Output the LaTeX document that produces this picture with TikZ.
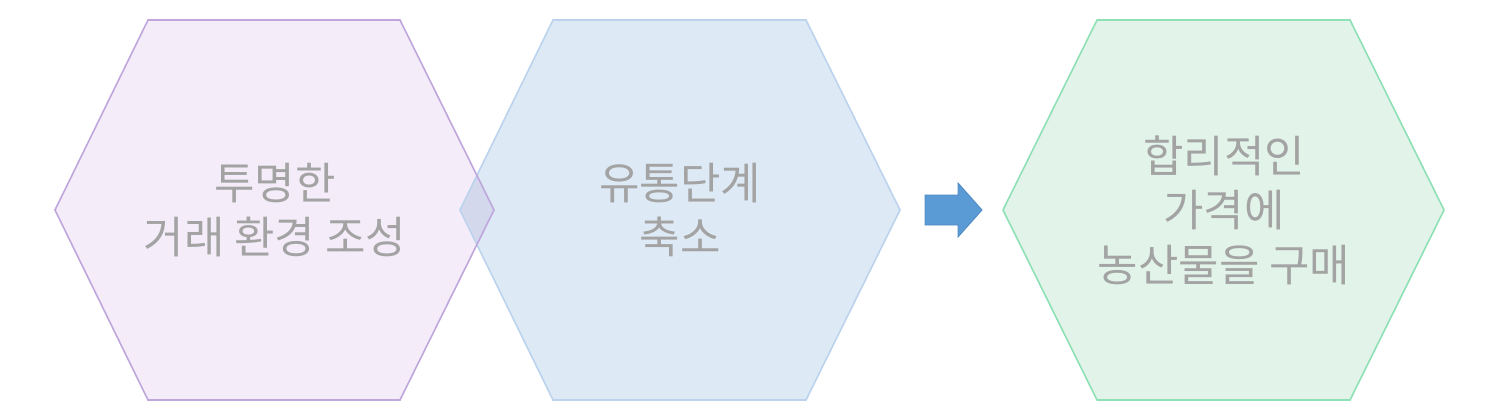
\documentclass[tikz,border=0pt]{standalone}
\usepackage{fontspec}
\newfontfamily\kr{Noto Sans CJK KR}
\definecolor{pfill}{HTML}{F4ECF9}
\definecolor{pline}{HTML}{BFA6DC}
\definecolor{bfill}{HTML}{DDE9F4}
\definecolor{bline}{HTML}{BCD3EE}
\definecolor{ofill}{HTML}{D3D8ED}
\definecolor{gfill}{HTML}{E2F3EA}
\definecolor{gline}{HTML}{8EE0B5}
\definecolor{afill}{HTML}{5B9BD5}
\definecolor{aline}{HTML}{4F8BC4}
\definecolor{txt}{HTML}{A3A3A3}
\begin{document}
\begin{tikzpicture}[x=0.02cm,y=-0.02cm,
  lbl/.style={font=\kr\fontsize{25}{31}\selectfont, text=txt, align=center, inner sep=0pt}]
\useasboundingbox (0,0) rectangle (1500,416);
\fill[white] (0,0) rectangle (1500,416);
% hexagon 1
\path[fill=pfill] (55,210) -- (148,20) -- (400,20) -- (494,210) -- (400,400) -- (148,400) -- cycle;
% hexagon 2
\path[fill=bfill] (460,210) -- (553,20) -- (806,20) -- (900,210) -- (806,400) -- (553,400) -- cycle;
\begin{scope}
\clip (55,210) -- (148,20) -- (400,20) -- (494,210) -- (400,400) -- (148,400) -- cycle;
\fill[ofill] (460,210) -- (553,20) -- (806,20) -- (900,210) -- (806,400) -- (553,400) -- cycle;
\end{scope}
\draw[bline, line width=0.9pt] (460,210) -- (553,20) -- (806,20) -- (900,210) -- (806,400) -- (553,400) -- cycle;
\draw[pline, line width=0.9pt] (55,210) -- (148,20) -- (400,20) -- (494,210) -- (400,400) -- (148,400) -- cycle;
% hexagon 3
\draw[gline, fill=gfill, line width=0.9pt] (1003,210) -- (1097,20) -- (1350,20) -- (1444,210) -- (1350,400) -- (1097,400) -- cycle;
% arrow
\draw[aline, fill=afill, line width=0.5pt] (925,195) -- (958,195) -- (958,183) -- (982,210) -- (958,237) -- (958,225) -- (925,225) -- cycle;
% labels
\node[lbl] (t1) at (275,210) {투명한\\거래 환경 조성};
\node[lbl] (t2) at (680,210) {유통단계\\축소};
\node[lbl] (t3) at (1224,210) {합리적인\\가격에\\농산물을 구매};
\end{tikzpicture}
\end{document}
